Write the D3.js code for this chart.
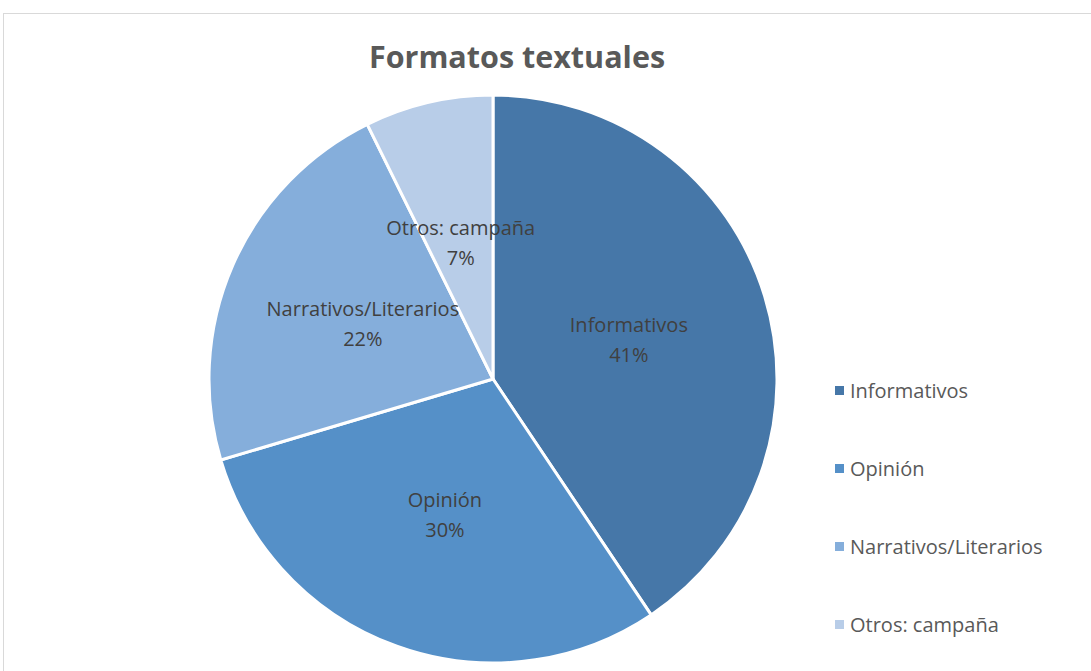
<!DOCTYPE html>
<meta charset="utf-8">
<head>
  <title>Formatos textuales</title>
</head>
<style>
body { margin: 0; background: #fff; }
text { font-family: "Open Sans", "Liberation Sans", sans-serif; }
</style>
<body>
  <svg width="1091" height="671"></svg>
  <script src="https://cdnjs.cloudflare.com/ajax/libs/d3/7.8.5/d3.min.js"></script>
  <script>
var categories = ['Informativos', 'Opinión', 'Narrativos/Literarios', 'Otros: campaña']
var values = [40.6, 29.8, 22.3, 7.3]
var labels = ['41%', '30%', '22%', '7%']
var colors = ['#4677a8', '#5590c8', '#85aedb', '#b8cde8']

var width = 1091, height = 671
var cx = 493, cy = 379, radius = 284

var svg = d3.select('svg')

// chart frame
svg.append('rect')
  .attr('x', 3.5).attr('y', 13.5)
  .attr('width', 1100).attr('height', 700)
  .attr('fill', 'none')
  .attr('stroke', '#d9d9d9')

svg.append('text')
  .attr('x', 517).attr('y', 68)
  .attr('text-anchor', 'middle')
  .attr('font-size', 30.5)
  .attr('font-weight', 'bold')
  .attr('fill', '#595959')
  .text('Formatos textuales')

var data = categories.map(function(c, i) {
  return {name: c, value: values[i], label: labels[i], color: colors[i]}
})

var pie = d3.pie().sort(null).value(function(d) { return d.value })
var arc = d3.arc().innerRadius(0).outerRadius(radius)
var labelArc = d3.arc().innerRadius(radius * 0.5).outerRadius(radius * 0.5)

var g = svg.append('g').attr('transform', 'translate(' + cx + ',' + cy + ')')

var slices = pie(data)

g.selectAll('path')
  .data(slices)
  .enter()
  .append('path')
  .attr('d', arc)
  .attr('fill', function(d) { return d.data.color })
  .attr('stroke', '#fff')
  .attr('stroke-width', 3)

var lbl = g.selectAll('text.lbl')
  .data(slices)
  .enter()
  .append('text')
  .attr('class', 'lbl')
  .attr('text-anchor', 'middle')
  .attr('font-size', 20)
  .attr('fill', '#404040')
  .attr('transform', function(d) {
    var c = labelArc.centroid(d)
    return 'translate(' + c[0] + ',' + c[1] + ')'
  })

lbl.append('tspan').attr('x', 0).attr('y', -6).text(function(d) { return d.data.name })
lbl.append('tspan').attr('x', 0).attr('y', 24).text(function(d) { return d.data.label })

// legend
var legend = svg.append('g')
  .selectAll('g')
  .data(data)
  .enter()
  .append('g')
  .attr('transform', function(d, i) { return 'translate(835,' + (398 + i * 78) + ')' })

legend.append('rect')
  .attr('x', 0).attr('y', -12)
  .attr('width', 9).attr('height', 9)
  .attr('fill', function(d) { return d.color })

legend.append('text')
  .attr('x', 15).attr('y', 0)
  .attr('font-size', 20)
  .attr('fill', '#595959')
  .text(function(d) { return d.name })
  </script>
</body>
</html>
